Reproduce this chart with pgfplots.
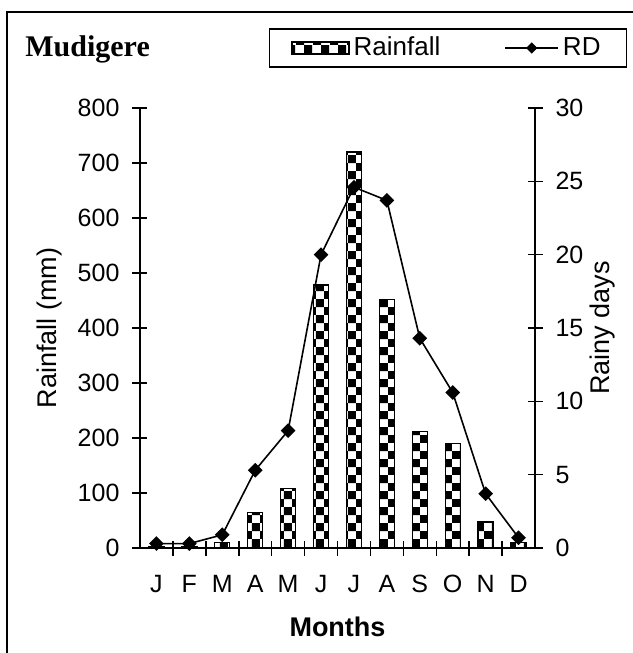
\documentclass[border=0pt]{standalone}
\usepackage{fontspec}
\setmainfont{Liberation Sans}
\newfontfamily\timesfont{Liberation Serif}
\usepackage{pgfplots}
\pgfplotsset{compat=1.18}
\usetikzlibrary{patterns.meta}

\tikzdeclarepattern{
  name=checks,
  type=uncolored,
  bottom left={(0pt,0pt)}, top right={(8.23pt,8.23pt)},
  tile size={(8.23pt,8.23pt)},
  code={\fill (0pt,0pt) rectangle (4.115pt,4.115pt);
        \fill (4.115pt,4.115pt) rectangle (8.23pt,8.23pt);}
}

\newcommand\tickfont{\fontsize{12.5}{14}\selectfont}
\newcommand\labfont{\fontsize{13.5}{15}\selectfont}

\pgfplotsset{
  common/.style={
    width=197.5pt, height=220pt, scale only axis,
    at={(0,0)}, anchor=south west,
    xmin=0.5, xmax=12.5,
    tick align=center,
    major tick length=7.5pt,
    minor tick length=7.5pt,
    every tick/.style={black, line width=0.75pt},
    axis line style={line width=0.8pt},
    ticklabel style={font=\tickfont},
    /pgf/number format/assume math mode=true,
  },
}

\begin{document}
\begin{tikzpicture}
% rainfall bars, left axis
\begin{axis}[common,
  axis x line*=bottom, axis y line*=left,
  ymin=0, ymax=800, ytick={0,100,...,800},
  xtick={1,...,12},
  xticklabels={J,F,M,A,M,J,J,A,S,O,N,D},
  major x tick style={draw=none},
  minor xtick={1.5,2.5,...,11.5},
  xticklabel style={yshift=-6pt, text height=9pt, text depth=0pt},
  yticklabel style={xshift=-3pt},
  xlabel={Months},
  every axis x label/.style={at={([yshift=-39.5pt]axis description cs:0.5,0)}, anchor=center, font=\labfont\bfseries},
  ylabel={Rainfall (mm)},
  every axis y label/.style={at={([xshift=-45pt]axis description cs:0,0.5)}, rotate=90, anchor=center, font=\labfont},
]
\addplot[ybar, bar width=7.5pt, draw=black, line width=0.7pt, pattern=checks]
  coordinates {(1,2) (2,2) (3,10) (4,65) (5,108) (6,478) (7,720) (8,452) (9,212) (10,190) (11,47) (12,10)};
\end{axis}
% rainy days line, right axis
\begin{axis}[common,
  axis x line=none, axis y line*=right,
  ymin=0, ymax=30, ytick={0,5,...,30},
  yticklabel style={xshift=3pt},
  ylabel={Rainy days},
  every axis y label/.style={at={([xshift=34pt]axis description cs:1,0.5)}, rotate=90, anchor=center, font=\labfont},
  legend columns=2,
  legend style={at={(154pt,250pt)}, anchor=center, draw=black, line width=0.7pt,
    font=\fontsize{13}{15}\selectfont, inner xsep=11pt, inner ysep=2pt,
    /tikz/every even column/.append style={column sep=30pt}},
]
\addlegendimage{legend image code/.code={\draw[pattern=checks, line width=0.6pt] (0pt,-3pt) rectangle (28.5pt,3pt);}}
\addlegendentry{Rainfall}
\addplot[black, line width=0.8pt, mark=square*, mark size=2.2pt, mark options={rotate=45},
  legend image code/.code={\draw[mark repeat=2, mark phase=2, line width=0.8pt, mark size=1.6pt] plot coordinates {(0pt,0pt) (13.25pt,0pt) (26.5pt,0pt)};}]
  coordinates {(1,0.3) (2,0.3) (3,0.9) (4,5.3) (5,8.0) (6,20.0) (7,24.6) (8,23.7) (9,14.3) (10,10.6) (11,3.7) (12,0.7)};
\addlegendentry{RD}
\end{axis}
% outer frame (cropped at right and bottom) and title
\draw[line width=0.8pt] (-66.5pt,-60pt) -- (-66.5pt,268pt) -- (250pt,268pt);
\node[anchor=base west, inner sep=0pt, font=\timesfont\bfseries\fontsize{15}{17}\selectfont] at (-57.5pt,245.5pt) {Mudigere};
\pgfresetboundingbox
\path[use as bounding box] (-70pt,-52.5pt) rectangle (246pt,274pt);
\end{tikzpicture}
\end{document}
